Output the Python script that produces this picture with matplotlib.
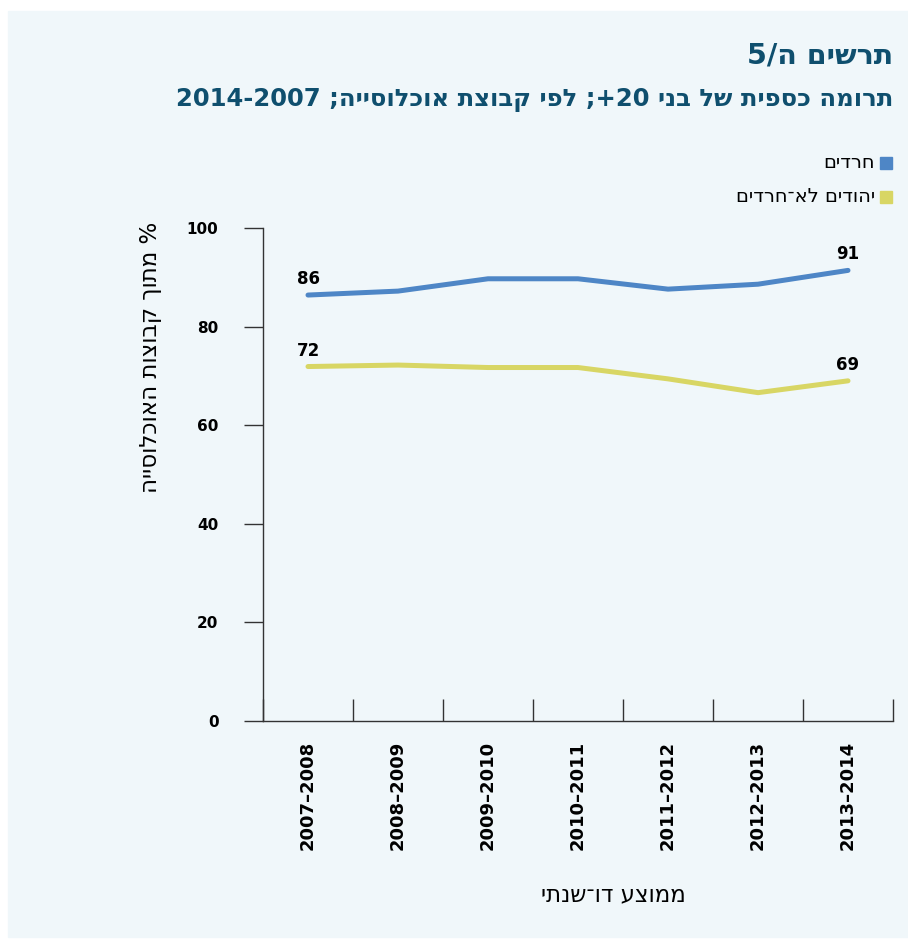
import re
import numpy as np
import matplotlib
matplotlib.use("Agg")
import matplotlib.pyplot as plt
from matplotlib.patches import Rectangle

plt.rcParams['font.family'] = ['DejaVu Sans']

# data
periods = ["2007–2008", "2008–2009", "2009–2010", "2010–2011",
           "2011–2012", "2012–2013", "2013–2014"]
haredim = [86.4, 87.2, 89.7, 89.7, 87.6, 88.6, 91.4]
non_haredim = [71.9, 72.2, 71.7, 71.7, 69.4, 66.6, 69.0]
label_haredim = "חרדים"
label_non = "יהודים לא־חרדים"
title = "תרשים ה/5"
subtitle = "תרומה כספית של בני 20+; לפי קבוצת אוכלוסייה; 2007-2014"
ylabel = "% מתוך קבוצות האוכלוסייה"
xlabel = "ממוצע דו־שנתי"

blue = "#4e86c6"
yellow = "#d8d664"
dark = "#0f4f6e"


def rtl(s):
    # crude visual ordering for hebrew: flip the string, keep digit runs LTR
    r = s[::-1]
    return re.sub(r"[0-9]+", lambda m: m.group(0)[::-1], r)


W, H = 908, 939
fig = plt.figure(figsize=(W / 100, H / 100), dpi=100)
fig.patch.set_facecolor("white")
fig.patches.append(Rectangle((8 / W, 1 - 937 / H), 1, (937 - 11) / H,
                             transform=fig.transFigure, color="#f0f7fa", zorder=-10))

ax = fig.add_axes([263 / W, 1 - 721 / H, (893 - 263) / W, (721 - 228) / H])
ax.set_facecolor("none")

x = np.arange(len(periods))
ax.plot(x, haredim, color=blue, lw=3.6, solid_capstyle="round")
ax.plot(x, non_haredim, color=yellow, lw=3.6, solid_capstyle="round")

for i in [0, len(x) - 1]:
    for ser in (haredim, non_haredim):
        ax.annotate(f"{int(round(ser[i]))}", (x[i], ser[i]), xytext=(0, 5),
                    textcoords="offset points", ha="center", va="bottom",
                    fontsize=12, fontweight="bold")

ax.set_xlim(-0.5, len(x) - 0.5)
ax.set_ylim(0, 100)
ax.set_yticks(range(0, 101, 20))
ax.set_xticks(x)
ax.set_xticklabels(periods, rotation=90, fontsize=13, fontweight="bold")
ax.set_xticks(np.arange(-0.5, len(x)), minor=True)
ax.tick_params(axis="x", which="major", length=0, pad=14)
ax.tick_params(axis="x", which="minor", direction="in", length=16, width=1, color="#333333")
ax.tick_params(axis="y", direction="out", length=14, width=1, color="#333333", pad=18, labelsize=11)
for t in ax.get_yticklabels():
    t.set_fontweight("bold")

for s in ["top", "right"]:
    ax.spines[s].set_visible(False)
for s in ["left", "bottom"]:
    ax.spines[s].set_color("#333333")
    ax.spines[s].set_linewidth(1)

fig.text(150 / W, 1 - 222 / H, rtl(ylabel), rotation=90, ha="center", va="top", fontsize=16.5)
fig.text(613 / W, 1 - 895 / H, rtl(xlabel), ha="center", va="center", fontsize=16.5)

fig.text(893 / W, 1 - 55 / H, rtl(title), ha="right", va="center", fontsize=20.5,
         fontweight="bold", color=dark)
fig.text(893 / W, 1 - 100 / H, rtl(subtitle), ha="right", va="center", fontsize=17.5,
         fontweight="bold", color=dark)

# legend, square on the right of the text
for yc, col, lab in [(163, blue, label_haredim), (197, yellow, label_non)]:
    fig.patches.append(Rectangle((880 / W, 1 - (yc + 6) / H), 12 / W, 12 / H,
                                 transform=fig.transFigure, color=col))
    fig.text(875 / W, 1 - yc / H, rtl(lab), ha="right", va="center", fontsize=14)

fig.savefig("out.png", dpi=100)
